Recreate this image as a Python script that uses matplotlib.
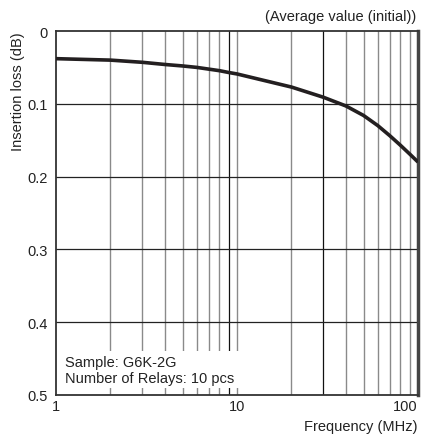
import matplotlib
matplotlib.use("Agg")
import matplotlib.pyplot as plt
from matplotlib.patches import Rectangle

plt.rcParams['font.family'] = ['Liberation Sans', 'DejaVu Sans']

# Data
freq_mhz = [1, 2, 3, 4, 5, 6, 8, 9, 10, 20, 30, 40, 50, 60, 70, 80, 90, 100]
loss_db = [0.038, 0.040, 0.043, 0.046, 0.048, 0.050, 0.0545, 0.057, 0.059,
           0.077, 0.091, 0.103, 0.116, 0.130, 0.144, 0.157, 0.169, 0.180]

x_major = [1, 10, 100]
x_major_labels = ["1", "10", "100"]
x_minor = [2, 3, 4, 5, 6, 7, 8, 10, 20, 40, 50, 60, 70, 80, 90]
x_dark = [9, 30]
y_ticks = [0, 0.1, 0.2, 0.3, 0.4, 0.5]
y_labels = ["0", "0.1", "0.2", "0.3", "0.4", "0.5"]

FS = 10.5
fig = plt.figure(figsize=(4.22, 4.39), dpi=100)
ax = fig.add_axes([56/422, 1-396/439, (418-56)/422, (396-32)/439])

ax.set_xscale('log')
ax.set_xlim(1, 100)
ax.set_ylim(0.5, 0)

# grid
for xv in x_minor:
    ax.axvline(xv, color='#8a8a8a', lw=1.0, zorder=1)
for xv in x_dark:
    ax.axvline(xv, color='#111111', lw=0.9, zorder=1)
for yv in y_ticks[1:-1]:
    ax.axhline(yv, color='#222222', lw=0.9, zorder=1)

# white box behind annotation
ax.add_patch(Rectangle((0.003, 0.019), 0.505, 0.102, transform=ax.transAxes,
                       facecolor='white', edgecolor='none', zorder=2))
ax.text(0.025, 0.069, "Sample: G6K-2G\nNumber of Relays: 10 pcs",
        transform=ax.transAxes, ha='left', va='center', fontsize=FS,
        linespacing=1.2, color='#222222', zorder=3)

ax.plot(freq_mhz, loss_db, color='#231f20', lw=2.6, zorder=4,
        solid_capstyle='butt')

ax.set_xticks(x_major)
ax.set_xticklabels(x_major_labels)
ax.set_xticks([], minor=True)
ax.set_yticks(y_ticks)
ax.set_yticklabels(y_labels)
ax.tick_params(axis='both', length=0, labelsize=FS, colors='#222222')
ax.tick_params(axis='y', pad=6)
ax.tick_params(axis='x', pad=3)
for lbl in ax.get_xticklabels():
    if lbl.get_text() == "100":
        lbl.set_horizontalalignment('right')

for side in ['left', 'bottom', 'top']:
    ax.spines[side].set_color('#333333')
    ax.spines[side].set_linewidth(1.3)
ax.spines['right'].set_color('#444444')
ax.spines['right'].set_linewidth(2.5)

fig.text(416/422, 1-17/439, "(Average value (initial))", ha='right',
         va='center', fontsize=FS, color='#222222')
fig.text(418/422, 1-427/439, "Frequency (MHz)", ha='right', va='center',
         fontsize=FS, color='#222222')
fig.text(18/422, 1-32/439, "Insertion loss (dB)", ha='center', va='top',
         rotation=90, fontsize=FS, color='#222222')

fig.savefig("out.png", dpi=100)
